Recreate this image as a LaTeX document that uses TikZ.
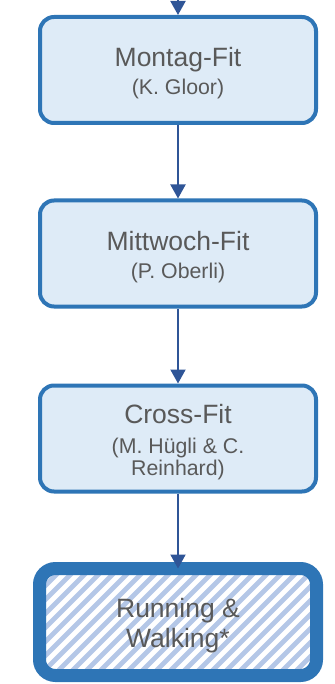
\documentclass[tikz,border=0pt]{standalone}
\usepackage{fontspec}
\setmainfont{Liberation Sans}
\usetikzlibrary{arrows.meta}
\definecolor{bordc}{HTML}{2E75B6}
\definecolor{fillc}{HTML}{DEEBF7}
\definecolor{txtc}{HTML}{595959}
\definecolor{arrc}{HTML}{2F5597}
\definecolor{hatchc}{HTML}{B4C7E7}
\begin{document}
\begin{tikzpicture}[x=1pt,y=-1pt,
  boxnode/.style={draw=bordc, fill=fillc, line width=4pt, rounded corners=14pt,
    minimum width=276pt, minimum height=106pt, inner sep=0pt, outer sep=2pt},
  hatchbox/.style={draw=bordc, fill=white, line width=13pt, rounded corners=16pt,
    minimum width=277pt, minimum height=107pt, inner sep=0pt, outer sep=0pt,
    path picture={\foreach \i in {-12,...,24}
      \draw[hatchc, line width=4.9pt] ([xshift=\i*14pt]path picture bounding box.south west) -- ++(160pt,160pt);}},
  bigtxt/.style={text=txtc, font=\fontsize{26.5}{30}\selectfont, anchor=base, inner sep=0pt},
  smalltxt/.style={text=txtc, font=\fontsize{21.3}{24}\selectfont, anchor=base, inner sep=0pt},
  arr/.style={draw=arrc, line width=2pt, -{Triangle[width=15pt,length=14pt]}}
]
\useasboundingbox (0,0) rectangle (334,684);
\coordinate (top) at (178,-5);
\node[boxnode] (b1) at (178,70) {};
\node[boxnode] (b2) at (178,253.5) {};
\node[boxnode] (b3) at (178,438.5) {};
\node[hatchbox] (b4) at (178,622) {};

\node[bigtxt] (t1a) at (178,67) {Montag-Fit};
\node[smalltxt] (t1b) at (178,94.5) {(K. Gloor)};
\node[bigtxt] (t2a) at (178,251) {Mittwoch-Fit};
\node[smalltxt] (t2b) at (178,278) {(P. Oberli)};
\node[bigtxt] (t3a) at (178,423) {Cross-Fit};
\node[smalltxt] (t3b) at (178,453) {(M. Hügli \& C.};
\node[smalltxt] (t3c) at (178,475) {Reinhard)};
\node[bigtxt] (t4a) at (178,617) {Running \&};
\node[bigtxt] (t4b) at (178,647) {Walking*};

\draw[arr] (top) -- (b1.north);
\draw[arr] (b1.south) -- (b2.north);
\draw[arr] (b2.south) -- (b3.north);
\draw[arr] (b3.south) -- (b4.north);
\end{tikzpicture}
\end{document}
